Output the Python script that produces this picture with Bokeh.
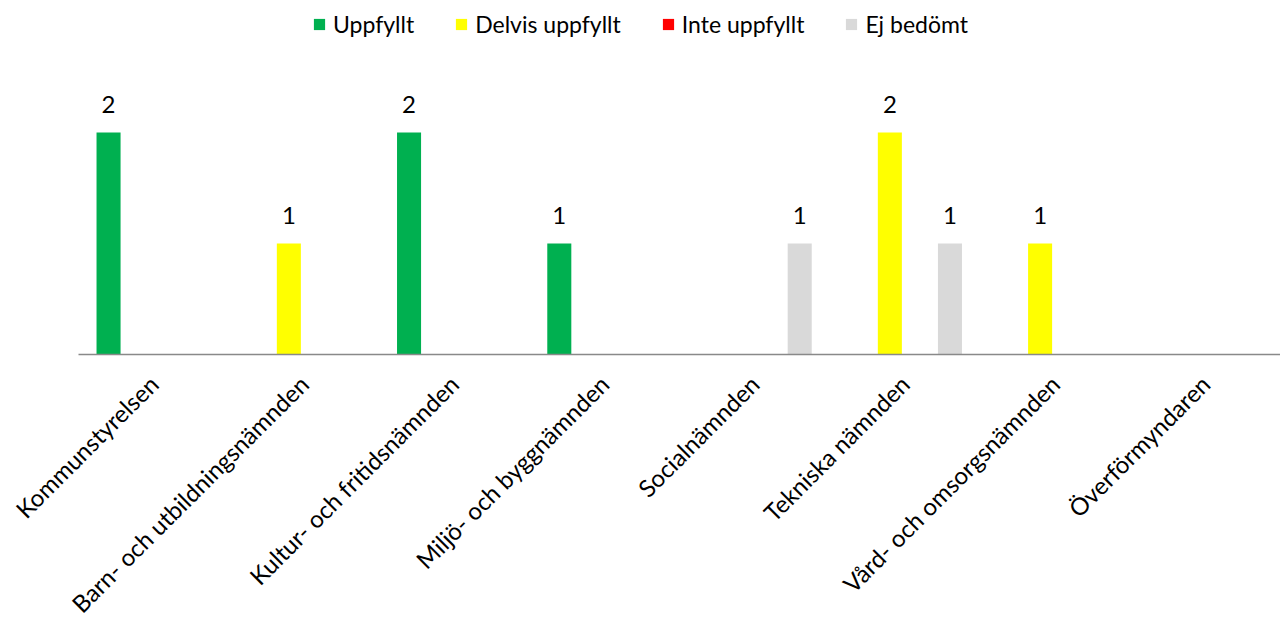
from math import pi
from bokeh.plotting import figure
from bokeh.models import ColumnDataSource, Legend, LegendItem, Range1d, FixedTicker
from bokeh.core.properties import value
from bokeh.embed import file_html
from bokeh.resources import INLINE

categories = ["Kommunstyrelsen", "Barn- och utbildningsnämnden", "Kultur- och fritidsnämnden",
              "Miljö- och byggnämnden", "Socialnämnden", "Tekniska nämnden",
              "Vård- och omsorgsnämnden", "Överförmyndaren"]
series_names = ["Uppfyllt", "Delvis uppfyllt", "Inte uppfyllt", "Ej bedömt"]
uppfyllt = [2, 0, 2, 1, 0, 0, 0, 0]
delvis_uppfyllt = [0, 1, 0, 0, 0, 2, 1, 0]
inte_uppfyllt = [0, 0, 0, 0, 0, 0, 0, 0]
ej_bedomt = [0, 0, 0, 0, 1, 1, 0, 0]
colors = ["#00B050", "#FFFF00", "#FF0000", "#D9D9D9"]

series_values = [uppfyllt, delvis_uppfyllt, inte_uppfyllt, ej_bedomt]
offsets = [-0.3, -0.1, 0.1, 0.3]

FONT = "Lato"

W, H = 1280, 625
LEFT = 78     # pixel column where the category axis starts
BASE = 354    # pixel row of the value axis zero
UNIT = 111    # pixels per count

n = len(categories)
cat_px = (W - LEFT) / n
idx = list(range(n))

p = figure(x_range=Range1d(-0.5 - LEFT / cat_px, n - 0.5),
           y_range=Range1d(-(H - BASE) / UNIT, BASE / UNIT),
           width=W, height=H, output_backend="svg", toolbar_location=None,
           min_border_left=0, min_border_right=0, min_border_top=0,
           min_border_bottom=0)
p.xgrid.visible = False
p.ygrid.visible = False
p.yaxis.visible = False
p.outline_line_color = None

items = []
for name, vals, col, off in zip(series_names, series_values, colors, offsets):
    xs = [i + off for i in idx]
    src = ColumnDataSource(dict(x=xs, val=vals))
    r = p.vbar(x="x", top="val", width=0.16, source=src,
               fill_color=col, line_color=None)
    items.append(LegendItem(label=name, renderers=[r]))
    lab_x = [x for x, v in zip(xs, vals) if v > 0]
    lab_vals = [v for v in vals if v > 0]
    lab_txt = [str(v) for v in lab_vals]
    lsrc = ColumnDataSource(dict(x=lab_x, val=lab_vals, txt=lab_txt))
    p.text(x="x", y="val", text="txt", source=lsrc,
           text_align="center", text_baseline="alphabetic", y_offset=-28,
           text_font=value(FONT), text_font_size="24px", text_color="#000000")

legend = Legend(items=items, orientation="horizontal", location=(LEFT + 234, H - 38),
                glyph_width=14, glyph_height=14, label_standoff=7, spacing=40,
                padding=0, margin=0, border_line_color=None,
                background_fill_alpha=0,
                label_text_font=FONT, label_text_font_size="23px",
                label_text_color="#000000", label_height=24)
p.add_layout(legend, "center")

ax = p.xaxis[0]
ax.fixed_location = 0
ax.bounds = (-0.5, n - 0.5)
ax.ticker = FixedTicker(ticks=idx)
ax.major_label_overrides = {i: c for i, c in zip(idx, categories)}
ax.axis_line_color = "#898989"
ax.axis_line_width = 1.5
ax.major_tick_line_color = None
ax.minor_tick_line_color = None
ax.major_label_orientation = pi / 4
ax.major_label_text_font = FONT
ax.major_label_text_font_size = "24px"
ax.major_label_text_color = "#000000"
ax.major_label_standoff = 19

open("out.html", "w").write(file_html(p, INLINE))
